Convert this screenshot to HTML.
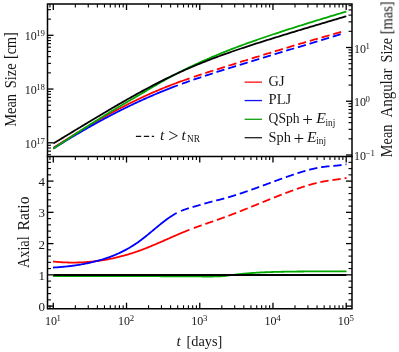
<!DOCTYPE html>
<html><head><meta charset="utf-8"><title>chart</title>
<style>html,body{margin:0;padding:0;background:#fff;}svg{display:block;}body{font-family:"Liberation Serif",serif;}</style></head>
<body>
<svg width="399" height="352" viewBox="0 0 399 352">
<rect x="0" y="0" width="399" height="352" fill="#fff"/>
<path d="M53.30,147.82 L53.98,147.39 L54.67,146.95 L55.35,146.51 L56.04,146.08 L56.72,145.64 L57.41,145.21 L58.09,144.77 L58.78,144.34 L59.46,143.90 L60.15,143.47 L60.83,143.03 L61.52,142.60 L62.20,142.17 L62.89,141.74 L63.57,141.30 L64.26,140.87 L64.94,140.44 L65.63,140.01 L66.31,139.58 L67.00,139.15 L67.68,138.72 L68.37,138.29 L69.05,137.87 L69.74,137.44 L70.42,137.01 L71.11,136.58 L71.79,136.16 L72.48,135.73 L73.16,135.31 L73.85,134.88 L74.53,134.46 L75.22,134.04 L75.90,133.62 L76.59,133.20 L77.27,132.77 L77.96,132.35 L78.64,131.93 L79.33,131.52 L80.01,131.10 L80.70,130.68 L81.38,130.26 L82.07,129.85 L82.75,129.43 L83.44,129.02 L84.12,128.61 L84.81,128.19 L85.49,127.78 L86.18,127.37 L86.86,126.96 L87.55,126.55 L88.23,126.14 L88.92,125.74 L89.60,125.33 L90.29,124.92 L90.97,124.52 L91.66,124.12 L92.34,123.71 L93.03,123.31 L93.71,122.91 L94.40,122.51 L95.08,122.11 L95.77,121.71 L96.45,121.32 L97.14,120.92 L97.82,120.52 L98.51,120.13 L99.19,119.74 L99.87,119.35 L100.56,118.96 L101.24,118.57 L101.93,118.18 L102.61,117.79 L103.30,117.40 L103.98,117.02 L104.67,116.63 L105.35,116.25 L106.04,115.87 L106.72,115.49 L107.41,115.11 L108.09,114.73 L108.78,114.35 L109.46,113.98 L110.15,113.60 L110.83,113.23 L111.52,112.85 L112.20,112.48 L112.89,112.11 L113.57,111.74 L114.26,111.37 L114.94,111.00 L115.63,110.64 L116.31,110.27 L117.00,109.91 L117.68,109.55 L118.37,109.19 L119.05,108.82 L119.74,108.47 L120.42,108.11 L121.11,107.75 L121.79,107.39 L122.48,107.04 L123.16,106.69 L123.85,106.33 L124.53,105.98 L125.22,105.63 L125.90,105.28 L126.59,104.94 L127.27,104.59 L127.96,104.25 L128.64,103.90 L129.33,103.56 L130.01,103.22 L130.70,102.88 L131.38,102.54 L132.07,102.20 L132.75,101.86 L133.44,101.53 L134.12,101.19 L134.81,100.86 L135.49,100.53 L136.18,100.20 L136.86,99.87 L137.55,99.54 L138.23,99.21 L138.92,98.89 L139.60,98.56 L140.29,98.24 L140.97,97.92 L141.66,97.60 L142.34,97.28 L143.03,96.96 L143.71,96.64 L144.39,96.33 L145.08,96.01 L145.76,95.70 L146.45,95.39 L147.13,95.08 L147.82,94.77 L148.50,94.46 L149.19,94.15 L149.87,93.85 L150.56,93.54 L151.24,93.24 L151.93,92.94 L152.61,92.64 L153.30,92.34 L153.98,92.04 L154.67,91.75 L155.35,91.45 L156.04,91.16 L156.72,90.87 L157.41,90.58 L158.09,90.29 L158.78,90.00 L159.46,89.71 L160.15,89.42 L160.83,89.14 L161.52,88.86 L162.20,88.57 L162.89,88.29 L163.57,88.02 L164.26,87.74 L164.94,87.46 L165.63,87.19 L166.31,86.91 L167.00,86.64 L167.68,86.37 L168.37,86.10 L169.05,85.83 L169.74,85.56 L170.42,85.30 L171.11,85.03 L171.79,84.77 L172.48,84.51 L173.16,84.25 L173.85,83.99 L174.53,83.73 L175.22,83.48 L175.90,83.22 L176.59,82.97 L177.27,82.72 L177.96,82.46 L178.64,82.21 L179.33,81.96 L180.01,81.72 L180.70,81.47 L181.38,81.22 L182.07,80.98 L182.75,80.73 L183.44,80.49 L184.12,80.25 L184.81,80.01 L185.49,79.77 L186.18,79.53 L186.86,79.29 L187.55,79.05 L188.23,78.81 L188.92,78.58 L189.60,78.34" fill="none" stroke="#ff0000" stroke-width="1.80" stroke-linecap="butt" stroke-linejoin="round"/>
<path d="M193.80,76.92 L194.56,76.66 L195.31,76.41 L196.07,76.16 L196.82,75.90 L197.58,75.65 L198.33,75.40 L199.09,75.15 L199.85,74.90 L200.60,74.66 L201.36,74.41 L202.11,74.16 L202.87,73.91 L203.63,73.67 L204.38,73.42 L205.14,73.18 L205.89,72.93 L206.65,72.69 L207.40,72.44 L208.16,72.20 L208.92,71.96 L209.67,71.71 L210.43,71.47 L211.18,71.23 L211.94,70.99 L212.69,70.75 L213.45,70.51 L214.21,70.27 L214.96,70.03 L215.72,69.78 L216.47,69.54 L217.23,69.30 L217.98,69.07 L218.74,68.83 L219.50,68.59 L220.25,68.35 L221.01,68.11 L221.76,67.87 L222.52,67.63 L223.28,67.39 L224.03,67.15 L224.79,66.91 L225.54,66.67 L226.30,66.44 L227.05,66.20 L227.81,65.96 L228.57,65.72 L229.32,65.48 L230.08,65.24 L230.83,65.01 L231.59,64.77 L232.34,64.53 L233.10,64.29 L233.86,64.06 L234.61,63.82 L235.37,63.58 L236.12,63.34 L236.88,63.11 L237.64,62.87 L238.39,62.63 L239.15,62.40 L239.90,62.16 L240.66,61.92 L241.41,61.69 L242.17,61.45 L242.93,61.21 L243.68,60.98 L244.44,60.74 L245.19,60.51 L245.95,60.27 L246.70,60.03 L247.46,59.80 L248.22,59.56 L248.97,59.33 L249.73,59.09 L250.48,58.86 L251.24,58.62 L251.99,58.39 L252.75,58.15 L253.51,57.92 L254.26,57.69 L255.02,57.45 L255.77,57.22 L256.53,56.98 L257.29,56.75 L258.04,56.52 L258.80,56.28 L259.55,56.05 L260.31,55.82 L261.06,55.58 L261.82,55.35 L262.58,55.12 L263.33,54.88 L264.09,54.65 L264.84,54.42 L265.60,54.19 L266.35,53.96 L267.11,53.72 L267.87,53.49 L268.62,53.26 L269.38,53.03 L270.13,52.80 L270.89,52.57 L271.65,52.34 L272.40,52.11 L273.16,51.88 L273.91,51.64 L274.67,51.41 L275.42,51.18 L276.18,50.95 L276.94,50.72 L277.69,50.50 L278.45,50.27 L279.20,50.04 L279.96,49.81 L280.71,49.58 L281.47,49.35 L282.23,49.12 L282.98,48.89 L283.74,48.67 L284.49,48.44 L285.25,48.21 L286.01,47.98 L286.76,47.75 L287.52,47.53 L288.27,47.30 L289.03,47.07 L289.78,46.85 L290.54,46.62 L291.30,46.39 L292.05,46.17 L292.81,45.94 L293.56,45.72 L294.32,45.49 L295.07,45.27 L295.83,45.04 L296.59,44.82 L297.34,44.59 L298.10,44.37 L298.85,44.14 L299.61,43.92 L300.36,43.69 L301.12,43.47 L301.88,43.25 L302.63,43.02 L303.39,42.80 L304.14,42.58 L304.90,42.36 L305.66,42.13 L306.41,41.91 L307.17,41.69 L307.92,41.47 L308.68,41.25 L309.43,41.02 L310.19,40.80 L310.95,40.58 L311.70,40.36 L312.46,40.14 L313.21,39.92 L313.97,39.70 L314.72,39.48 L315.48,39.26 L316.24,39.04 L316.99,38.82 L317.75,38.60 L318.50,38.39 L319.26,38.17 L320.02,37.95 L320.77,37.73 L321.53,37.51 L322.28,37.30 L323.04,37.08 L323.79,36.86 L324.55,36.65 L325.31,36.43 L326.06,36.21 L326.82,36.00 L327.57,35.78 L328.33,35.57 L329.08,35.35 L329.84,35.14 L330.60,34.92 L331.35,34.71 L332.11,34.49 L332.86,34.28 L333.62,34.06 L334.37,33.85 L335.13,33.64 L335.89,33.43 L336.64,33.21 L337.40,33.00 L338.15,32.79 L338.91,32.58 L339.67,32.37 L340.42,32.15 L341.18,31.94 L341.93,31.73 L342.69,31.52 L343.44,31.31 L344.20,31.10" fill="none" stroke="#ff0000" stroke-width="1.80" stroke-linecap="butt" stroke-linejoin="round" stroke-dasharray="8.3 3.85" stroke-dashoffset="0.00"/>
<path d="M53.30,148.56 L53.93,148.17 L54.55,147.78 L55.18,147.39 L55.80,147.00 L56.43,146.61 L57.06,146.22 L57.68,145.83 L58.31,145.44 L58.94,145.05 L59.56,144.67 L60.19,144.28 L60.81,143.89 L61.44,143.51 L62.07,143.13 L62.69,142.74 L63.32,142.36 L63.94,141.98 L64.57,141.59 L65.20,141.21 L65.82,140.83 L66.45,140.45 L67.07,140.07 L67.70,139.69 L68.33,139.31 L68.95,138.94 L69.58,138.56 L70.21,138.18 L70.83,137.81 L71.46,137.43 L72.08,137.06 L72.71,136.69 L73.34,136.31 L73.96,135.94 L74.59,135.57 L75.21,135.20 L75.84,134.83 L76.47,134.46 L77.09,134.09 L77.72,133.72 L78.35,133.35 L78.97,132.98 L79.60,132.62 L80.22,132.25 L80.85,131.89 L81.48,131.52 L82.10,131.16 L82.73,130.80 L83.35,130.44 L83.98,130.07 L84.61,129.71 L85.23,129.35 L85.86,128.99 L86.48,128.64 L87.11,128.28 L87.74,127.92 L88.36,127.57 L88.99,127.21 L89.62,126.86 L90.24,126.50 L90.87,126.15 L91.49,125.80 L92.12,125.44 L92.75,125.09 L93.37,124.74 L94.00,124.39 L94.62,124.05 L95.25,123.70 L95.88,123.35 L96.50,123.01 L97.13,122.66 L97.76,122.32 L98.38,121.97 L99.01,121.63 L99.63,121.29 L100.26,120.95 L100.89,120.61 L101.51,120.27 L102.14,119.93 L102.76,119.59 L103.39,119.25 L104.02,118.92 L104.64,118.58 L105.27,118.25 L105.89,117.91 L106.52,117.58 L107.15,117.25 L107.77,116.92 L108.40,116.59 L109.03,116.26 L109.65,115.93 L110.28,115.60 L110.90,115.27 L111.53,114.95 L112.16,114.62 L112.78,114.30 L113.41,113.97 L114.03,113.65 L114.66,113.33 L115.29,113.01 L115.91,112.69 L116.54,112.37 L117.17,112.05 L117.79,111.73 L118.42,111.41 L119.04,111.10 L119.67,110.78 L120.30,110.47 L120.92,110.15 L121.55,109.84 L122.17,109.53 L122.80,109.22 L123.43,108.91 L124.05,108.60 L124.68,108.29 L125.31,107.98 L125.93,107.68 L126.56,107.37 L127.18,107.07 L127.81,106.76 L128.44,106.46 L129.06,106.16 L129.69,105.85 L130.31,105.55 L130.94,105.25 L131.57,104.96 L132.19,104.66 L132.82,104.36 L133.44,104.06 L134.07,103.77 L134.70,103.47 L135.32,103.18 L135.95,102.89 L136.58,102.59 L137.20,102.30 L137.83,102.01 L138.45,101.72 L139.08,101.44 L139.71,101.15 L140.33,100.86 L140.96,100.58 L141.58,100.29 L142.21,100.01 L142.84,99.72 L143.46,99.44 L144.09,99.16 L144.72,98.88 L145.34,98.60 L145.97,98.32 L146.59,98.04 L147.22,97.76 L147.85,97.49 L148.47,97.21 L149.10,96.94 L149.72,96.67 L150.35,96.39 L150.98,96.12 L151.60,95.85 L152.23,95.58 L152.85,95.31 L153.48,95.04 L154.11,94.78 L154.73,94.51 L155.36,94.24 L155.99,93.98 L156.61,93.72 L157.24,93.45 L157.86,93.19 L158.49,92.93 L159.12,92.67 L159.74,92.41 L160.37,92.15 L160.99,91.90 L161.62,91.64 L162.25,91.38 L162.87,91.13 L163.50,90.88 L164.13,90.62 L164.75,90.37 L165.38,90.12 L166.00,89.87 L166.63,89.62 L167.26,89.37 L167.88,89.13 L168.51,88.88 L169.13,88.63 L169.76,88.39 L170.39,88.15 L171.01,87.90 L171.64,87.66 L172.26,87.42 L172.89,87.18 L173.52,86.94 L174.14,86.70 L174.77,86.46 L175.40,86.23 L176.02,85.99 L176.65,85.76 L177.27,85.52 L177.90,85.29" fill="none" stroke="#0000ff" stroke-width="1.80" stroke-linecap="butt" stroke-linejoin="round"/>
<path d="M182.00,83.78 L182.82,83.49 L183.63,83.19 L184.45,82.90 L185.26,82.61 L186.08,82.32 L186.89,82.03 L187.71,81.74 L188.52,81.45 L189.34,81.16 L190.15,80.88 L190.97,80.59 L191.78,80.31 L192.60,80.03 L193.41,79.75 L194.23,79.47 L195.04,79.19 L195.86,78.91 L196.67,78.63 L197.49,78.36 L198.30,78.08 L199.12,77.80 L199.93,77.53 L200.75,77.26 L201.56,76.99 L202.38,76.71 L203.19,76.44 L204.01,76.17 L204.82,75.91 L205.64,75.64 L206.45,75.37 L207.27,75.10 L208.08,74.84 L208.90,74.57 L209.71,74.31 L210.53,74.04 L211.34,73.78 L212.16,73.51 L212.97,73.25 L213.79,72.99 L214.60,72.73 L215.42,72.47 L216.23,72.21 L217.05,71.95 L217.86,71.69 L218.68,71.43 L219.49,71.17 L220.31,70.91 L221.12,70.65 L221.94,70.39 L222.75,70.13 L223.57,69.88 L224.38,69.62 L225.20,69.36 L226.01,69.11 L226.83,68.85 L227.64,68.59 L228.46,68.34 L229.27,68.08 L230.09,67.83 L230.90,67.57 L231.72,67.32 L232.53,67.07 L233.35,66.81 L234.16,66.56 L234.98,66.30 L235.79,66.05 L236.61,65.80 L237.43,65.55 L238.24,65.29 L239.06,65.04 L239.87,64.79 L240.69,64.54 L241.50,64.29 L242.32,64.04 L243.13,63.78 L243.95,63.53 L244.76,63.28 L245.58,63.03 L246.39,62.78 L247.21,62.53 L248.02,62.28 L248.84,62.03 L249.65,61.78 L250.47,61.54 L251.28,61.29 L252.10,61.04 L252.91,60.79 L253.73,60.54 L254.54,60.29 L255.36,60.05 L256.17,59.80 L256.99,59.55 L257.80,59.30 L258.62,59.05 L259.43,58.81 L260.25,58.56 L261.06,58.31 L261.88,58.07 L262.69,57.82 L263.51,57.57 L264.32,57.33 L265.14,57.08 L265.95,56.83 L266.77,56.59 L267.58,56.34 L268.40,56.10 L269.21,55.85 L270.03,55.61 L270.84,55.36 L271.66,55.11 L272.47,54.87 L273.29,54.62 L274.10,54.38 L274.92,54.13 L275.73,53.89 L276.55,53.64 L277.36,53.40 L278.18,53.15 L278.99,52.91 L279.81,52.66 L280.62,52.42 L281.44,52.17 L282.25,51.93 L283.07,51.68 L283.88,51.44 L284.70,51.19 L285.51,50.95 L286.33,50.71 L287.14,50.46 L287.96,50.22 L288.77,49.97 L289.59,49.73 L290.41,49.48 L291.22,49.24 L292.04,48.99 L292.85,48.75 L293.67,48.50 L294.48,48.26 L295.30,48.01 L296.11,47.77 L296.93,47.53 L297.74,47.28 L298.56,47.04 L299.37,46.79 L300.19,46.55 L301.00,46.30 L301.82,46.06 L302.63,45.81 L303.45,45.57 L304.26,45.32 L305.08,45.07 L305.89,44.83 L306.71,44.58 L307.52,44.34 L308.34,44.09 L309.15,43.85 L309.97,43.60 L310.78,43.35 L311.60,43.11 L312.41,42.86 L313.23,42.62 L314.04,42.37 L314.86,42.12 L315.67,41.88 L316.49,41.63 L317.30,41.38 L318.12,41.14 L318.93,40.89 L319.75,40.64 L320.56,40.39 L321.38,40.15 L322.19,39.90 L323.01,39.65 L323.82,39.40 L324.64,39.15 L325.45,38.91 L326.27,38.66 L327.08,38.41 L327.90,38.16 L328.71,37.91 L329.53,37.66 L330.34,37.41 L331.16,37.16 L331.97,36.91 L332.79,36.66 L333.60,36.41 L334.42,36.16 L335.23,35.91 L336.05,35.66 L336.86,35.41 L337.68,35.15 L338.49,34.90 L339.31,34.65 L340.12,34.40 L340.94,34.15 L341.75,33.89 L342.57,33.64 L343.38,33.39 L344.20,33.13" fill="none" stroke="#0000ff" stroke-width="1.80" stroke-linecap="butt" stroke-linejoin="round" stroke-dasharray="8.3 3.85" stroke-dashoffset="0.00"/>
<path d="M53.30,148.75 L54.77,147.76 L56.24,146.77 L57.72,145.78 L59.19,144.79 L60.66,143.80 L62.13,142.82 L63.61,141.83 L65.08,140.85 L66.55,139.88 L68.02,138.90 L69.50,137.93 L70.97,136.95 L72.44,135.98 L73.91,135.02 L75.39,134.05 L76.86,133.09 L78.33,132.13 L79.80,131.17 L81.27,130.22 L82.75,129.27 L84.22,128.32 L85.69,127.37 L87.16,126.43 L88.64,125.48 L90.11,124.55 L91.58,123.61 L93.05,122.68 L94.53,121.75 L96.00,120.82 L97.47,119.90 L98.94,118.98 L100.42,118.06 L101.89,117.15 L103.36,116.23 L104.83,115.33 L106.31,114.42 L107.78,113.52 L109.25,112.62 L110.72,111.73 L112.19,110.84 L113.67,109.95 L115.14,109.07 L116.61,108.19 L118.08,107.31 L119.56,106.44 L121.03,105.57 L122.50,104.71 L123.97,103.85 L125.45,102.99 L126.92,102.13 L128.39,101.28 L129.86,100.42 L131.34,99.57 L132.81,98.71 L134.28,97.86 L135.75,97.01 L137.22,96.15 L138.70,95.30 L140.17,94.44 L141.64,93.58 L143.11,92.71 L144.59,91.85 L146.06,90.98 L147.53,90.10 L149.00,89.23 L150.48,88.35 L151.95,87.48 L153.42,86.60 L154.89,85.73 L156.37,84.87 L157.84,84.01 L159.31,83.15 L160.78,82.30 L162.25,81.47 L163.73,80.63 L165.20,79.81 L166.67,79.00 L168.14,78.19 L169.62,77.39 L171.09,76.60 L172.56,75.81 L174.03,75.03 L175.51,74.26 L176.98,73.50 L178.45,72.74 L179.92,71.99 L181.40,71.24 L182.87,70.50 L184.34,69.77 L185.81,69.04 L187.28,68.32 L188.76,67.61 L190.23,66.90 L191.70,66.20 L193.17,65.50 L194.65,64.81 L196.12,64.13 L197.59,63.45 L199.06,62.78 L200.54,62.11 L202.01,61.44 L203.48,60.79 L204.95,60.13 L206.43,59.49 L207.90,58.85 L209.37,58.21 L210.84,57.58 L212.32,56.95 L213.79,56.33 L215.26,55.71 L216.73,55.10 L218.20,54.49 L219.68,53.88 L221.15,53.28 L222.62,52.69 L224.09,52.10 L225.57,51.51 L227.04,50.93 L228.51,50.35 L229.98,49.78 L231.46,49.21 L232.93,48.64 L234.40,48.08 L235.87,47.52 L237.35,46.96 L238.82,46.41 L240.29,45.86 L241.76,45.31 L243.23,44.77 L244.71,44.23 L246.18,43.70 L247.65,43.17 L249.12,42.64 L250.60,42.11 L252.07,41.59 L253.54,41.06 L255.01,40.55 L256.49,40.03 L257.96,39.52 L259.43,39.01 L260.90,38.50 L262.38,37.99 L263.85,37.49 L265.32,36.99 L266.79,36.49 L268.26,35.99 L269.74,35.50 L271.21,35.00 L272.68,34.51 L274.15,34.02 L275.63,33.54 L277.10,33.05 L278.57,32.57 L280.04,32.08 L281.52,31.60 L282.99,31.12 L284.46,30.65 L285.93,30.17 L287.41,29.69 L288.88,29.22 L290.35,28.75 L291.82,28.28 L293.29,27.81 L294.77,27.34 L296.24,26.88 L297.71,26.41 L299.18,25.95 L300.66,25.49 L302.13,25.02 L303.60,24.56 L305.07,24.10 L306.55,23.65 L308.02,23.19 L309.49,22.73 L310.96,22.28 L312.44,21.82 L313.91,21.37 L315.38,20.92 L316.85,20.46 L318.33,20.01 L319.80,19.56 L321.27,19.11 L322.74,18.66 L324.21,18.22 L325.69,17.77 L327.16,17.32 L328.63,16.87 L330.10,16.43 L331.58,15.98 L333.05,15.54 L334.52,15.09 L335.99,14.65 L337.47,14.20 L338.94,13.76 L340.41,13.31 L341.88,12.87 L343.36,12.43 L344.83,11.98 L346.30,11.54" fill="none" stroke="#00a800" stroke-width="1.80" stroke-linecap="butt" stroke-linejoin="round"/>
<path d="M53.40,143.45 L54.87,142.56 L56.34,141.68 L57.82,140.79 L59.29,139.90 L60.76,139.01 L62.23,138.12 L63.70,137.23 L65.17,136.34 L66.65,135.45 L68.12,134.56 L69.59,133.67 L71.06,132.77 L72.53,131.88 L74.01,130.99 L75.48,130.10 L76.95,129.21 L78.42,128.32 L79.89,127.43 L81.37,126.53 L82.84,125.64 L84.31,124.75 L85.78,123.87 L87.25,122.98 L88.72,122.09 L90.20,121.20 L91.67,120.32 L93.14,119.43 L94.61,118.55 L96.08,117.67 L97.56,116.79 L99.03,115.91 L100.50,115.03 L101.97,114.16 L103.44,113.28 L104.92,112.41 L106.39,111.54 L107.86,110.67 L109.33,109.80 L110.80,108.94 L112.27,108.08 L113.75,107.22 L115.22,106.36 L116.69,105.50 L118.16,104.65 L119.63,103.80 L121.11,102.95 L122.58,102.10 L124.05,101.26 L125.52,100.42 L126.99,99.59 L128.46,98.75 L129.94,97.92 L131.41,97.10 L132.88,96.27 L134.35,95.45 L135.82,94.63 L137.30,93.82 L138.77,93.01 L140.24,92.21 L141.71,91.40 L143.18,90.61 L144.66,89.81 L146.13,89.02 L147.60,88.23 L149.07,87.45 L150.54,86.68 L152.01,85.90 L153.49,85.13 L154.96,84.37 L156.43,83.61 L157.90,82.86 L159.37,82.11 L160.85,81.36 L162.32,80.62 L163.79,79.89 L165.26,79.16 L166.73,78.43 L168.21,77.71 L169.68,77.00 L171.15,76.29 L172.62,75.59 L174.09,74.89 L175.56,74.20 L177.04,73.51 L178.51,72.83 L179.98,72.16 L181.45,71.49 L182.92,70.83 L184.40,70.17 L185.87,69.52 L187.34,68.88 L188.81,68.24 L190.28,67.60 L191.75,66.98 L193.23,66.35 L194.70,65.74 L196.17,65.12 L197.64,64.52 L199.11,63.92 L200.59,63.32 L202.06,62.73 L203.53,62.14 L205.00,61.56 L206.47,60.98 L207.95,60.40 L209.42,59.84 L210.89,59.27 L212.36,58.71 L213.83,58.15 L215.30,57.60 L216.78,57.05 L218.25,56.51 L219.72,55.97 L221.19,55.43 L222.66,54.90 L224.14,54.37 L225.61,53.84 L227.08,53.32 L228.55,52.80 L230.02,52.29 L231.49,51.77 L232.97,51.26 L234.44,50.76 L235.91,50.25 L237.38,49.75 L238.85,49.26 L240.33,48.76 L241.80,48.27 L243.27,47.78 L244.74,47.29 L246.21,46.80 L247.69,46.32 L249.16,45.84 L250.63,45.36 L252.10,44.88 L253.57,44.41 L255.04,43.93 L256.52,43.46 L257.99,42.99 L259.46,42.52 L260.93,42.06 L262.40,41.59 L263.88,41.13 L265.35,40.67 L266.82,40.20 L268.29,39.74 L269.76,39.28 L271.24,38.82 L272.71,38.37 L274.18,37.91 L275.65,37.45 L277.12,37.00 L278.59,36.54 L280.07,36.09 L281.54,35.63 L283.01,35.18 L284.48,34.73 L285.95,34.28 L287.43,33.83 L288.90,33.38 L290.37,32.93 L291.84,32.48 L293.31,32.04 L294.78,31.59 L296.26,31.14 L297.73,30.70 L299.20,30.25 L300.67,29.81 L302.14,29.36 L303.62,28.92 L305.09,28.48 L306.56,28.04 L308.03,27.60 L309.50,27.15 L310.98,26.71 L312.45,26.27 L313.92,25.83 L315.39,25.39 L316.86,24.96 L318.33,24.52 L319.81,24.08 L321.28,23.64 L322.75,23.20 L324.22,22.77 L325.69,22.33 L327.17,21.90 L328.64,21.46 L330.11,21.02 L331.58,20.59 L333.05,20.15 L334.53,19.72 L336.00,19.28 L337.47,18.85 L338.94,18.42 L340.41,17.98 L341.88,17.55 L343.36,17.12 L344.83,16.68 L346.30,16.25" fill="none" stroke="#000000" stroke-width="1.80" stroke-linecap="butt" stroke-linejoin="round"/>
<path d="M53.00,261.51 L53.98,261.61 L54.96,261.71 L55.94,261.80 L56.93,261.88 L57.91,261.96 L58.89,262.04 L59.87,262.11 L60.85,262.17 L61.83,262.23 L62.82,262.29 L63.80,262.34 L64.78,262.38 L65.76,262.42 L66.74,262.46 L67.72,262.49 L68.71,262.51 L69.69,262.53 L70.67,262.55 L71.65,262.56 L72.63,262.56 L73.61,262.56 L74.60,262.56 L75.58,262.55 L76.56,262.53 L77.54,262.51 L78.52,262.48 L79.50,262.45 L80.48,262.42 L81.47,262.37 L82.45,262.33 L83.43,262.28 L84.41,262.22 L85.39,262.16 L86.37,262.09 L87.36,262.02 L88.34,261.94 L89.32,261.86 L90.30,261.77 L91.28,261.68 L92.26,261.58 L93.25,261.48 L94.23,261.37 L95.21,261.26 L96.19,261.14 L97.17,261.01 L98.15,260.89 L99.14,260.75 L100.12,260.61 L101.10,260.47 L102.08,260.32 L103.06,260.16 L104.04,260.00 L105.03,259.84 L106.01,259.67 L106.99,259.49 L107.97,259.31 L108.95,259.12 L109.93,258.93 L110.91,258.73 L111.90,258.53 L112.88,258.32 L113.86,258.11 L114.84,257.89 L115.82,257.67 L116.80,257.44 L117.79,257.21 L118.77,256.97 L119.75,256.72 L120.73,256.47 L121.71,256.22 L122.69,255.96 L123.68,255.69 L124.66,255.42 L125.64,255.14 L126.62,254.86 L127.60,254.57 L128.58,254.28 L129.57,253.98 L130.55,253.68 L131.53,253.37 L132.51,253.06 L133.49,252.74 L134.47,252.41 L135.45,252.08 L136.44,251.75 L137.42,251.41 L138.40,251.06 L139.38,250.71 L140.36,250.35 L141.34,249.99 L142.33,249.62 L143.31,249.25 L144.29,248.87 L145.27,248.49 L146.25,248.10 L147.23,247.71 L148.22,247.32 L149.20,246.92 L150.18,246.52 L151.16,246.11 L152.14,245.70 L153.12,245.29 L154.11,244.88 L155.09,244.46 L156.07,244.04 L157.05,243.62 L158.03,243.20 L159.01,242.77 L159.99,242.35 L160.98,241.92 L161.96,241.49 L162.94,241.06 L163.92,240.62 L164.90,240.19 L165.88,239.76 L166.87,239.33 L167.85,238.89 L168.83,238.46 L169.81,238.03 L170.79,237.60 L171.77,237.16 L172.76,236.73 L173.74,236.30 L174.72,235.88 L175.70,235.45 L176.68,235.02 L177.66,234.60 L178.65,234.18 L179.63,233.76 L180.61,233.34 L181.59,232.93 L182.57,232.52 L183.55,232.11 L184.54,231.71 L185.52,231.31 L186.50,230.91 L187.48,230.51 L188.46,230.12 L189.44,229.74" fill="none" stroke="#ff0000" stroke-width="1.80" stroke-linecap="butt" stroke-linejoin="round"/>
<path d="M193.80,228.08 L194.31,227.89 L194.82,227.70 L195.33,227.51 L195.84,227.32 L196.35,227.14 L196.86,226.95 L197.37,226.77 L197.89,226.58 L198.40,226.40 L198.91,226.22 L199.42,226.04 L199.93,225.85 L200.44,225.67 L200.95,225.49 L201.46,225.31 L201.97,225.14 L202.48,224.96 L202.99,224.78 L203.50,224.60 L204.01,224.42 L204.52,224.25 L205.04,224.07 L205.55,223.89 L206.06,223.72 L206.57,223.54 L207.08,223.36 L207.59,223.19 L208.10,223.01 L208.61,222.84 L209.12,222.66 L209.63,222.49 L210.14,222.31 L210.65,222.14 L211.16,221.96 L211.67,221.79 L212.19,221.61 L212.70,221.43 L213.21,221.26 L213.72,221.08 L214.23,220.91 L214.74,220.73 L215.25,220.55 L215.76,220.37 L216.27,220.20 L216.78,220.02 L217.29,219.84 L217.80,219.66 L218.31,219.48 L218.82,219.30 L219.34,219.12 L219.85,218.94 L220.36,218.76 L220.87,218.57 L221.38,218.39 L221.89,218.21 L222.40,218.02 L222.91,217.84 L223.42,217.65 L223.93,217.46 L224.44,217.28 L224.95,217.09 L225.46,216.90 L225.97,216.71 L226.48,216.52 L227.00,216.33 L227.51,216.14 L228.02,215.95 L228.53,215.76 L229.04,215.57 L229.55,215.37 L230.06,215.18 L230.57,214.99 L231.08,214.79 L231.59,214.60 L232.10,214.40 L232.61,214.21 L233.12,214.01 L233.63,213.81 L234.15,213.61 L234.66,213.42 L235.17,213.22 L235.68,213.02 L236.19,212.82 L236.70,212.62 L237.21,212.42 L237.72,212.22 L238.23,212.02 L238.74,211.82 L239.25,211.62 L239.76,211.42 L240.27,211.21 L240.78,211.01 L241.30,210.81 L241.81,210.61 L242.32,210.40 L242.83,210.20 L243.34,210.00 L243.85,209.79 L244.36,209.59 L244.87,209.38 L245.38,209.18 L245.89,208.97 L246.40,208.77 L246.91,208.56 L247.42,208.36 L247.93,208.15 L248.45,207.94 L248.96,207.74 L249.47,207.53 L249.98,207.32 L250.49,207.12 L251.00,206.91 L251.51,206.70 L252.02,206.50 L252.53,206.29 L253.04,206.08 L253.55,205.87 L254.06,205.67 L254.57,205.46 L255.08,205.25 L255.59,205.04 L256.11,204.84 L256.62,204.63 L257.13,204.42 L257.64,204.21 L258.15,204.00 L258.66,203.80 L259.17,203.59 L259.68,203.38 L260.19,203.17 L260.70,202.96 L261.21,202.76 L261.72,202.55 L262.23,202.34 L262.74,202.13 L263.26,201.93 L263.77,201.72 L264.28,201.51 L264.79,201.30 L265.30,201.10 L265.81,200.89 L266.32,200.68 L266.83,200.48 L267.34,200.27 L267.85,200.06 L268.36,199.86 L268.87,199.65 L269.38,199.45 L269.89,199.24 L270.41,199.04 L270.92,198.83 L271.43,198.63 L271.94,198.42 L272.45,198.22 L272.96,198.01 L273.47,197.81 L273.98,197.61 L274.49,197.40 L275.00,197.20 L275.51,197.00 L276.02,196.80 L276.53,196.59 L277.04,196.39 L277.56,196.19 L278.07,195.99 L278.58,195.79 L279.09,195.59 L279.60,195.39 L280.11,195.19 L280.62,194.99 L281.13,194.79 L281.64,194.60 L282.15,194.40 L282.66,194.20 L283.17,194.01 L283.68,193.81 L284.19,193.61 L284.71,193.42 L285.22,193.22 L285.73,193.03 L286.24,192.84 L286.75,192.64 L287.26,192.45 L287.77,192.26 L288.28,192.07 L288.79,191.88 L289.30,191.69 L289.81,191.50 L290.32,191.31 L290.83,191.12 L291.34,190.93 L291.85,190.74 L292.37,190.56 L292.88,190.37 L293.39,190.19 L293.90,190.00 L294.41,189.82 L294.92,189.64 L295.43,189.45 L295.94,189.27 L296.45,189.09 L296.96,188.91 L297.47,188.74 L297.98,188.56 L298.49,188.38 L299.00,188.21 L299.52,188.03 L300.03,187.86 L300.54,187.69 L301.05,187.52 L301.56,187.35 L302.07,187.18 L302.58,187.01 L303.09,186.85 L303.60,186.68 L304.11,186.52 L304.62,186.36 L305.13,186.20 L305.64,186.04 L306.15,185.88 L306.67,185.72 L307.18,185.57 L307.69,185.41 L308.20,185.26 L308.71,185.11 L309.22,184.96 L309.73,184.81 L310.24,184.66 L310.75,184.52 L311.26,184.38 L311.77,184.23 L312.28,184.09 L312.79,183.96 L313.30,183.82 L313.82,183.69 L314.33,183.55 L314.84,183.42 L315.35,183.29 L315.86,183.16 L316.37,183.04 L316.88,182.91 L317.39,182.79 L317.90,182.67 L318.41,182.55 L318.92,182.44 L319.43,182.32 L319.94,182.21 L320.45,182.10 L320.96,181.99 L321.48,181.89 L321.99,181.78 L322.50,181.68 L323.01,181.58 L323.52,181.48 L324.03,181.39 L324.54,181.30 L325.05,181.20 L325.56,181.12 L326.07,181.03 L326.58,180.94 L327.09,180.86 L327.60,180.78 L328.11,180.70 L328.63,180.62 L329.14,180.54 L329.65,180.46 L330.16,180.39 L330.67,180.31 L331.18,180.24 L331.69,180.17 L332.20,180.10 L332.71,180.02 L333.22,179.95 L333.73,179.88 L334.24,179.81 L334.75,179.74 L335.26,179.67 L335.78,179.60 L336.29,179.53 L336.80,179.46 L337.31,179.39 L337.82,179.32 L338.33,179.25 L338.84,179.18 L339.35,179.11 L339.86,179.04 L340.37,178.96 L340.88,178.89 L341.39,178.82 L341.90,178.74 L342.41,178.66 L342.93,178.58 L343.44,178.50 L343.95,178.42 L344.46,178.34 L344.97,178.25 L345.48,178.17 L345.99,178.08 L346.50,177.99" fill="none" stroke="#ff0000" stroke-width="1.80" stroke-linecap="butt" stroke-linejoin="round" stroke-dasharray="8.35 3.9" stroke-dashoffset="0.00"/>
<path d="M53.00,267.56 L53.98,267.50 L54.96,267.44 L55.94,267.38 L56.93,267.31 L57.91,267.25 L58.89,267.17 L59.87,267.10 L60.85,267.02 L61.83,266.94 L62.82,266.85 L63.80,266.76 L64.78,266.66 L65.76,266.57 L66.74,266.46 L67.72,266.36 L68.71,266.25 L69.69,266.13 L70.67,266.01 L71.65,265.89 L72.63,265.76 L73.61,265.63 L74.60,265.49 L75.58,265.35 L76.56,265.21 L77.54,265.05 L78.52,264.90 L79.50,264.74 L80.48,264.57 L81.47,264.40 L82.45,264.23 L83.43,264.05 L84.41,263.86 L85.39,263.67 L86.37,263.47 L87.36,263.27 L88.34,263.07 L89.32,262.85 L90.30,262.64 L91.28,262.41 L92.26,262.18 L93.25,261.95 L94.23,261.70 L95.21,261.46 L96.19,261.20 L97.17,260.95 L98.15,260.68 L99.14,260.41 L100.12,260.13 L101.10,259.84 L102.08,259.55 L103.06,259.25 L104.04,258.94 L105.03,258.62 L106.01,258.30 L106.99,257.97 L107.97,257.63 L108.95,257.28 L109.93,256.92 L110.91,256.56 L111.90,256.18 L112.88,255.80 L113.86,255.40 L114.84,255.00 L115.82,254.59 L116.80,254.16 L117.79,253.73 L118.77,253.29 L119.75,252.83 L120.73,252.37 L121.71,251.89 L122.69,251.40 L123.68,250.91 L124.66,250.40 L125.64,249.87 L126.62,249.34 L127.60,248.80 L128.58,248.24 L129.57,247.67 L130.55,247.09 L131.53,246.49 L132.51,245.88 L133.49,245.26 L134.47,244.63 L135.45,243.98 L136.44,243.31 L137.42,242.64 L138.40,241.95 L139.38,241.24 L140.36,240.52 L141.34,239.79 L142.33,239.04 L143.31,238.29 L144.29,237.52 L145.27,236.74 L146.25,235.95 L147.23,235.15 L148.22,234.35 L149.20,233.54 L150.18,232.73 L151.16,231.91 L152.14,231.10 L153.12,230.28 L154.11,229.46 L155.09,228.64 L156.07,227.82 L157.05,227.00 L158.03,226.19 L159.01,225.39 L159.99,224.59 L160.98,223.80 L161.96,223.02 L162.94,222.24 L163.92,221.48 L164.90,220.73 L165.88,219.99 L166.87,219.27 L167.85,218.56 L168.83,217.86 L169.81,217.18 L170.79,216.53 L171.77,215.89 L172.76,215.27 L173.74,214.67 L174.72,214.09 L175.70,213.54 L176.68,213.01" fill="none" stroke="#0000ff" stroke-width="1.80" stroke-linecap="butt" stroke-linejoin="round"/>
<path d="M181.00,210.98 L181.55,210.75 L182.11,210.53 L182.66,210.31 L183.21,210.10 L183.77,209.89 L184.32,209.69 L184.87,209.49 L185.43,209.30 L185.98,209.11 L186.54,208.93 L187.09,208.75 L187.64,208.57 L188.20,208.39 L188.75,208.22 L189.30,208.05 L189.86,207.89 L190.41,207.72 L190.96,207.56 L191.52,207.40 L192.07,207.24 L192.62,207.08 L193.18,206.92 L193.73,206.76 L194.28,206.61 L194.84,206.45 L195.39,206.29 L195.94,206.13 L196.50,205.97 L197.05,205.81 L197.61,205.65 L198.16,205.49 L198.71,205.33 L199.27,205.16 L199.82,205.00 L200.37,204.83 L200.93,204.67 L201.48,204.51 L202.03,204.34 L202.59,204.18 L203.14,204.02 L203.69,203.85 L204.25,203.69 L204.80,203.53 L205.35,203.37 L205.91,203.21 L206.46,203.06 L207.02,202.90 L207.57,202.75 L208.12,202.60 L208.68,202.45 L209.23,202.30 L209.78,202.16 L210.34,202.01 L210.89,201.87 L211.44,201.73 L212.00,201.59 L212.55,201.45 L213.10,201.31 L213.66,201.18 L214.21,201.04 L214.76,200.90 L215.32,200.77 L215.87,200.63 L216.42,200.49 L216.98,200.36 L217.53,200.22 L218.09,200.08 L218.64,199.94 L219.19,199.80 L219.75,199.66 L220.30,199.52 L220.85,199.38 L221.41,199.23 L221.96,199.08 L222.51,198.94 L223.07,198.79 L223.62,198.64 L224.17,198.48 L224.73,198.33 L225.28,198.18 L225.83,198.02 L226.39,197.86 L226.94,197.70 L227.49,197.54 L228.05,197.38 L228.60,197.22 L229.16,197.06 L229.71,196.89 L230.26,196.73 L230.82,196.56 L231.37,196.40 L231.92,196.23 L232.48,196.06 L233.03,195.89 L233.58,195.71 L234.14,195.54 L234.69,195.37 L235.24,195.19 L235.80,195.02 L236.35,194.84 L236.90,194.66 L237.46,194.48 L238.01,194.31 L238.57,194.12 L239.12,193.94 L239.67,193.76 L240.23,193.58 L240.78,193.40 L241.33,193.21 L241.89,193.03 L242.44,192.84 L242.99,192.65 L243.55,192.46 L244.10,192.28 L244.65,192.09 L245.21,191.90 L245.76,191.71 L246.31,191.52 L246.87,191.32 L247.42,191.13 L247.97,190.94 L248.53,190.75 L249.08,190.55 L249.64,190.36 L250.19,190.16 L250.74,189.97 L251.30,189.77 L251.85,189.57 L252.40,189.38 L252.96,189.18 L253.51,188.98 L254.06,188.78 L254.62,188.58 L255.17,188.38 L255.72,188.18 L256.28,187.98 L256.83,187.78 L257.38,187.58 L257.94,187.38 L258.49,187.18 L259.05,186.98 L259.60,186.78 L260.15,186.58 L260.71,186.37 L261.26,186.17 L261.81,185.97 L262.37,185.76 L262.92,185.56 L263.47,185.36 L264.03,185.15 L264.58,184.95 L265.13,184.75 L265.69,184.54 L266.24,184.34 L266.79,184.14 L267.35,183.93 L267.90,183.73 L268.45,183.52 L269.01,183.32 L269.56,183.12 L270.12,182.91 L270.67,182.71 L271.22,182.50 L271.78,182.30 L272.33,182.10 L272.88,181.89 L273.44,181.69 L273.99,181.49 L274.54,181.28 L275.10,181.08 L275.65,180.88 L276.20,180.68 L276.76,180.47 L277.31,180.27 L277.86,180.07 L278.42,179.87 L278.97,179.67 L279.53,179.47 L280.08,179.27 L280.63,179.07 L281.19,178.87 L281.74,178.67 L282.29,178.47 L282.85,178.27 L283.40,178.07 L283.95,177.88 L284.51,177.68 L285.06,177.48 L285.61,177.29 L286.17,177.09 L286.72,176.89 L287.27,176.70 L287.83,176.51 L288.38,176.31 L288.93,176.12 L289.49,175.93 L290.04,175.74 L290.60,175.54 L291.15,175.35 L291.70,175.17 L292.26,174.98 L292.81,174.79 L293.36,174.60 L293.92,174.42 L294.47,174.23 L295.02,174.05 L295.58,173.86 L296.13,173.68 L296.68,173.50 L297.24,173.32 L297.79,173.14 L298.34,172.96 L298.90,172.79 L299.45,172.61 L300.01,172.44 L300.56,172.27 L301.11,172.10 L301.67,171.93 L302.22,171.76 L302.77,171.60 L303.33,171.43 L303.88,171.27 L304.43,171.11 L304.99,170.95 L305.54,170.79 L306.09,170.64 L306.65,170.48 L307.20,170.33 L307.75,170.18 L308.31,170.03 L308.86,169.89 L309.41,169.74 L309.97,169.60 L310.52,169.46 L311.08,169.32 L311.63,169.19 L312.18,169.05 L312.74,168.92 L313.29,168.79 L313.84,168.67 L314.40,168.55 L314.95,168.42 L315.50,168.31 L316.06,168.19 L316.61,168.08 L317.16,167.96 L317.72,167.86 L318.27,167.75 L318.82,167.65 L319.38,167.55 L319.93,167.45 L320.48,167.36 L321.04,167.26 L321.59,167.18 L322.15,167.09 L322.70,167.01 L323.25,166.93 L323.81,166.85 L324.36,166.78 L324.91,166.71 L325.47,166.64 L326.02,166.58 L326.57,166.51 L327.13,166.45 L327.68,166.40 L328.23,166.34 L328.79,166.29 L329.34,166.23 L329.89,166.18 L330.45,166.13 L331.00,166.08 L331.56,166.03 L332.11,165.98 L332.66,165.94 L333.22,165.89 L333.77,165.84 L334.32,165.79 L334.88,165.75 L335.43,165.70 L335.98,165.65 L336.54,165.60 L337.09,165.54 L337.64,165.49 L338.20,165.44 L338.75,165.38 L339.30,165.32 L339.86,165.26 L340.41,165.20 L340.96,165.13 L341.52,165.06 L342.07,164.99 L342.63,164.92 L343.18,164.84 L343.73,164.76 L344.29,164.68 L344.84,164.59 L345.39,164.49 L345.95,164.40 L346.50,164.30" fill="none" stroke="#0000ff" stroke-width="1.80" stroke-linecap="butt" stroke-linejoin="round" stroke-dasharray="8.35 3.9" stroke-dashoffset="0.00"/>
<path d="M53.00,276.20 L53.98,276.20 L54.96,276.20 L55.94,276.20 L56.93,276.20 L57.91,276.20 L58.89,276.20 L59.87,276.20 L60.85,276.20 L61.83,276.20 L62.82,276.20 L63.80,276.20 L64.78,276.20 L65.76,276.20 L66.74,276.20 L67.72,276.20 L68.71,276.20 L69.69,276.20 L70.67,276.20 L71.65,276.20 L72.63,276.20 L73.61,276.20 L74.60,276.20 L75.58,276.20 L76.56,276.20 L77.54,276.20 L78.52,276.20 L79.50,276.20 L80.48,276.20 L81.47,276.20 L82.45,276.20 L83.43,276.20 L84.41,276.20 L85.39,276.20 L86.37,276.20 L87.36,276.20 L88.34,276.20 L89.32,276.20 L90.30,276.20 L91.28,276.20 L92.26,276.20 L93.25,276.20 L94.23,276.20 L95.21,276.20 L96.19,276.20 L97.17,276.20 L98.15,276.20 L99.14,276.20 L100.12,276.20 L101.10,276.20 L102.08,276.20 L103.06,276.20 L104.04,276.20 L105.03,276.20 L106.01,276.20 L106.99,276.20 L107.97,276.20 L108.95,276.20 L109.93,276.20 L110.91,276.20 L111.90,276.20 L112.88,276.20 L113.86,276.20 L114.84,276.20 L115.82,276.20 L116.80,276.20 L117.79,276.20 L118.77,276.20 L119.75,276.20 L120.73,276.20 L121.71,276.20 L122.69,276.20 L123.68,276.20 L124.66,276.20 L125.64,276.20 L126.62,276.20 L127.60,276.20 L128.58,276.20 L129.57,276.20 L130.55,276.20 L131.53,276.20 L132.51,276.20 L133.49,276.20 L134.47,276.20 L135.45,276.20 L136.44,276.20 L137.42,276.20 L138.40,276.20 L139.38,276.20 L140.36,276.20 L141.34,276.20 L142.33,276.20 L143.31,276.20 L144.29,276.20 L145.27,276.20 L146.25,276.20 L147.23,276.20 L148.22,276.20 L149.20,276.20 L150.18,276.20 L151.16,276.20 L152.14,276.20 L153.12,276.20 L154.11,276.20 L155.09,276.21 L156.07,276.21 L157.05,276.21 L158.03,276.21 L159.01,276.22 L159.99,276.22 L160.98,276.23 L161.96,276.23 L162.94,276.24 L163.92,276.24 L164.90,276.25 L165.88,276.25 L166.87,276.26 L167.85,276.26 L168.83,276.27 L169.81,276.27 L170.79,276.28 L171.77,276.29 L172.76,276.29 L173.74,276.30 L174.72,276.31 L175.70,276.31 L176.68,276.32 L177.66,276.33 L178.65,276.33 L179.63,276.34 L180.61,276.34 L181.59,276.35 L182.57,276.36 L183.55,276.36 L184.54,276.37 L185.52,276.38 L186.50,276.38 L187.48,276.39 L188.46,276.39 L189.44,276.40 L190.42,276.40 L191.41,276.41 L192.39,276.41 L193.37,276.42 L194.35,276.43 L195.33,276.43 L196.31,276.44 L197.30,276.44 L198.28,276.45 L199.26,276.46 L200.24,276.46 L201.22,276.47 L202.20,276.48 L203.19,276.48 L204.17,276.49 L205.15,276.49 L206.13,276.49 L207.11,276.50 L208.09,276.50 L209.08,276.50 L210.06,276.50 L211.04,276.50 L212.02,276.49 L213.00,276.48 L213.98,276.46 L214.96,276.44 L215.95,276.41 L216.93,276.39 L217.91,276.36 L218.89,276.32 L219.87,276.29 L220.85,276.25 L221.84,276.21 L222.82,276.16 L223.80,276.08 L224.78,275.98 L225.76,275.86 L226.74,275.73 L227.73,275.59 L228.71,275.44 L229.69,275.30 L230.67,275.17 L231.65,275.04 L232.63,274.93 L233.62,274.81 L234.60,274.70 L235.58,274.59 L236.56,274.48 L237.54,274.36 L238.52,274.25 L239.51,274.15 L240.49,274.04 L241.47,273.94 L242.45,273.84 L243.43,273.74 L244.41,273.65 L245.39,273.57 L246.38,273.48 L247.36,273.40 L248.34,273.31 L249.32,273.23 L250.30,273.15 L251.28,273.07 L252.27,272.99 L253.25,272.92 L254.23,272.85 L255.21,272.78 L256.19,272.72 L257.17,272.65 L258.16,272.60 L259.14,272.54 L260.12,272.49 L261.10,272.45 L262.08,272.40 L263.06,272.36 L264.05,272.32 L265.03,272.27 L266.01,272.23 L266.99,272.19 L267.97,272.16 L268.95,272.12 L269.93,272.08 L270.92,272.05 L271.90,272.02 L272.88,271.99 L273.86,271.96 L274.84,271.93 L275.82,271.90 L276.81,271.87 L277.79,271.85 L278.77,271.83 L279.75,271.81 L280.73,271.78 L281.71,271.76 L282.70,271.75 L283.68,271.73 L284.66,271.71 L285.64,271.69 L286.62,271.67 L287.60,271.65 L288.59,271.64 L289.57,271.62 L290.55,271.61 L291.53,271.59 L292.51,271.58 L293.49,271.57 L294.47,271.55 L295.46,271.54 L296.44,271.53 L297.42,271.52 L298.40,271.51 L299.38,271.50 L300.36,271.50 L301.35,271.49 L302.33,271.48 L303.31,271.48 L304.29,271.47 L305.27,271.46 L306.25,271.46 L307.24,271.45 L308.22,271.44 L309.20,271.44 L310.18,271.43 L311.16,271.42 L312.14,271.42 L313.13,271.41 L314.11,271.41 L315.09,271.40 L316.07,271.40 L317.05,271.39 L318.03,271.38 L319.02,271.38 L320.00,271.37 L320.98,271.37 L321.96,271.36 L322.94,271.36 L323.92,271.35 L324.90,271.35 L325.89,271.35 L326.87,271.34 L327.85,271.34 L328.83,271.33 L329.81,271.33 L330.79,271.33 L331.78,271.32 L332.76,271.32 L333.74,271.32 L334.72,271.32 L335.70,271.31 L336.68,271.31 L337.67,271.31 L338.65,271.31 L339.63,271.31 L340.61,271.30 L341.59,271.30 L342.57,271.30 L343.56,271.30 L344.54,271.30 L345.52,271.30 L346.50,271.30" fill="none" stroke="#00a800" stroke-width="1.80" stroke-linecap="butt" stroke-linejoin="round"/>
<path d="M53.3,275.0 L346.4,275.0" stroke="#000" stroke-width="1.80" fill="none"/>
<g stroke="#000" fill="none" stroke-width="1.50" stroke-linecap="square">
<rect x="47.50" y="4.00" width="304.50" height="304.75"/>
<line x1="47.50" y1="156.50" x2="352.00" y2="156.50"/>
</g>
<g stroke="#000" fill="none"><line x1="49.95" y1="4.00" x2="49.95" y2="7.50" stroke-width="1.10"/><line x1="49.95" y1="156.50" x2="49.95" y2="160.00" stroke-width="1.10"/><line x1="49.95" y1="308.75" x2="49.95" y2="305.25" stroke-width="1.10"/><line x1="53.30" y1="4.00" x2="53.30" y2="10.00" stroke-width="1.30"/><line x1="53.30" y1="156.50" x2="53.30" y2="162.50" stroke-width="1.30"/><line x1="53.30" y1="308.75" x2="53.30" y2="302.75" stroke-width="1.30"/><line x1="75.34" y1="4.00" x2="75.34" y2="7.50" stroke-width="1.10"/><line x1="75.34" y1="156.50" x2="75.34" y2="160.00" stroke-width="1.10"/><line x1="75.34" y1="308.75" x2="75.34" y2="305.25" stroke-width="1.10"/><line x1="88.24" y1="4.00" x2="88.24" y2="7.50" stroke-width="1.10"/><line x1="88.24" y1="156.50" x2="88.24" y2="160.00" stroke-width="1.10"/><line x1="88.24" y1="308.75" x2="88.24" y2="305.25" stroke-width="1.10"/><line x1="97.39" y1="4.00" x2="97.39" y2="7.50" stroke-width="1.10"/><line x1="97.39" y1="156.50" x2="97.39" y2="160.00" stroke-width="1.10"/><line x1="97.39" y1="308.75" x2="97.39" y2="305.25" stroke-width="1.10"/><line x1="104.48" y1="4.00" x2="104.48" y2="7.50" stroke-width="1.10"/><line x1="104.48" y1="156.50" x2="104.48" y2="160.00" stroke-width="1.10"/><line x1="104.48" y1="308.75" x2="104.48" y2="305.25" stroke-width="1.10"/><line x1="110.28" y1="4.00" x2="110.28" y2="7.50" stroke-width="1.10"/><line x1="110.28" y1="156.50" x2="110.28" y2="160.00" stroke-width="1.10"/><line x1="110.28" y1="308.75" x2="110.28" y2="305.25" stroke-width="1.10"/><line x1="115.18" y1="4.00" x2="115.18" y2="7.50" stroke-width="1.10"/><line x1="115.18" y1="156.50" x2="115.18" y2="160.00" stroke-width="1.10"/><line x1="115.18" y1="308.75" x2="115.18" y2="305.25" stroke-width="1.10"/><line x1="119.43" y1="4.00" x2="119.43" y2="7.50" stroke-width="1.10"/><line x1="119.43" y1="156.50" x2="119.43" y2="160.00" stroke-width="1.10"/><line x1="119.43" y1="308.75" x2="119.43" y2="305.25" stroke-width="1.10"/><line x1="123.17" y1="4.00" x2="123.17" y2="7.50" stroke-width="1.10"/><line x1="123.17" y1="156.50" x2="123.17" y2="160.00" stroke-width="1.10"/><line x1="123.17" y1="308.75" x2="123.17" y2="305.25" stroke-width="1.10"/><line x1="126.52" y1="4.00" x2="126.52" y2="10.00" stroke-width="1.30"/><line x1="126.52" y1="156.50" x2="126.52" y2="162.50" stroke-width="1.30"/><line x1="126.52" y1="308.75" x2="126.52" y2="302.75" stroke-width="1.30"/><line x1="148.57" y1="4.00" x2="148.57" y2="7.50" stroke-width="1.10"/><line x1="148.57" y1="156.50" x2="148.57" y2="160.00" stroke-width="1.10"/><line x1="148.57" y1="308.75" x2="148.57" y2="305.25" stroke-width="1.10"/><line x1="161.46" y1="4.00" x2="161.46" y2="7.50" stroke-width="1.10"/><line x1="161.46" y1="156.50" x2="161.46" y2="160.00" stroke-width="1.10"/><line x1="161.46" y1="308.75" x2="161.46" y2="305.25" stroke-width="1.10"/><line x1="170.61" y1="4.00" x2="170.61" y2="7.50" stroke-width="1.10"/><line x1="170.61" y1="156.50" x2="170.61" y2="160.00" stroke-width="1.10"/><line x1="170.61" y1="308.75" x2="170.61" y2="305.25" stroke-width="1.10"/><line x1="177.71" y1="4.00" x2="177.71" y2="7.50" stroke-width="1.10"/><line x1="177.71" y1="156.50" x2="177.71" y2="160.00" stroke-width="1.10"/><line x1="177.71" y1="308.75" x2="177.71" y2="305.25" stroke-width="1.10"/><line x1="183.51" y1="4.00" x2="183.51" y2="7.50" stroke-width="1.10"/><line x1="183.51" y1="156.50" x2="183.51" y2="160.00" stroke-width="1.10"/><line x1="183.51" y1="308.75" x2="183.51" y2="305.25" stroke-width="1.10"/><line x1="188.41" y1="4.00" x2="188.41" y2="7.50" stroke-width="1.10"/><line x1="188.41" y1="156.50" x2="188.41" y2="160.00" stroke-width="1.10"/><line x1="188.41" y1="308.75" x2="188.41" y2="305.25" stroke-width="1.10"/><line x1="192.65" y1="4.00" x2="192.65" y2="7.50" stroke-width="1.10"/><line x1="192.65" y1="156.50" x2="192.65" y2="160.00" stroke-width="1.10"/><line x1="192.65" y1="308.75" x2="192.65" y2="305.25" stroke-width="1.10"/><line x1="196.40" y1="4.00" x2="196.40" y2="7.50" stroke-width="1.10"/><line x1="196.40" y1="156.50" x2="196.40" y2="160.00" stroke-width="1.10"/><line x1="196.40" y1="308.75" x2="196.40" y2="305.25" stroke-width="1.10"/><line x1="199.75" y1="4.00" x2="199.75" y2="10.00" stroke-width="1.30"/><line x1="199.75" y1="156.50" x2="199.75" y2="162.50" stroke-width="1.30"/><line x1="199.75" y1="308.75" x2="199.75" y2="302.75" stroke-width="1.30"/><line x1="221.79" y1="4.00" x2="221.79" y2="7.50" stroke-width="1.10"/><line x1="221.79" y1="156.50" x2="221.79" y2="160.00" stroke-width="1.10"/><line x1="221.79" y1="308.75" x2="221.79" y2="305.25" stroke-width="1.10"/><line x1="234.69" y1="4.00" x2="234.69" y2="7.50" stroke-width="1.10"/><line x1="234.69" y1="156.50" x2="234.69" y2="160.00" stroke-width="1.10"/><line x1="234.69" y1="308.75" x2="234.69" y2="305.25" stroke-width="1.10"/><line x1="243.84" y1="4.00" x2="243.84" y2="7.50" stroke-width="1.10"/><line x1="243.84" y1="156.50" x2="243.84" y2="160.00" stroke-width="1.10"/><line x1="243.84" y1="308.75" x2="243.84" y2="305.25" stroke-width="1.10"/><line x1="250.93" y1="4.00" x2="250.93" y2="7.50" stroke-width="1.10"/><line x1="250.93" y1="156.50" x2="250.93" y2="160.00" stroke-width="1.10"/><line x1="250.93" y1="308.75" x2="250.93" y2="305.25" stroke-width="1.10"/><line x1="256.73" y1="4.00" x2="256.73" y2="7.50" stroke-width="1.10"/><line x1="256.73" y1="156.50" x2="256.73" y2="160.00" stroke-width="1.10"/><line x1="256.73" y1="308.75" x2="256.73" y2="305.25" stroke-width="1.10"/><line x1="261.63" y1="4.00" x2="261.63" y2="7.50" stroke-width="1.10"/><line x1="261.63" y1="156.50" x2="261.63" y2="160.00" stroke-width="1.10"/><line x1="261.63" y1="308.75" x2="261.63" y2="305.25" stroke-width="1.10"/><line x1="265.88" y1="4.00" x2="265.88" y2="7.50" stroke-width="1.10"/><line x1="265.88" y1="156.50" x2="265.88" y2="160.00" stroke-width="1.10"/><line x1="265.88" y1="308.75" x2="265.88" y2="305.25" stroke-width="1.10"/><line x1="269.62" y1="4.00" x2="269.62" y2="7.50" stroke-width="1.10"/><line x1="269.62" y1="156.50" x2="269.62" y2="160.00" stroke-width="1.10"/><line x1="269.62" y1="308.75" x2="269.62" y2="305.25" stroke-width="1.10"/><line x1="272.97" y1="4.00" x2="272.97" y2="10.00" stroke-width="1.30"/><line x1="272.97" y1="156.50" x2="272.97" y2="162.50" stroke-width="1.30"/><line x1="272.97" y1="308.75" x2="272.97" y2="302.75" stroke-width="1.30"/><line x1="295.02" y1="4.00" x2="295.02" y2="7.50" stroke-width="1.10"/><line x1="295.02" y1="156.50" x2="295.02" y2="160.00" stroke-width="1.10"/><line x1="295.02" y1="308.75" x2="295.02" y2="305.25" stroke-width="1.10"/><line x1="307.91" y1="4.00" x2="307.91" y2="7.50" stroke-width="1.10"/><line x1="307.91" y1="156.50" x2="307.91" y2="160.00" stroke-width="1.10"/><line x1="307.91" y1="308.75" x2="307.91" y2="305.25" stroke-width="1.10"/><line x1="317.06" y1="4.00" x2="317.06" y2="7.50" stroke-width="1.10"/><line x1="317.06" y1="156.50" x2="317.06" y2="160.00" stroke-width="1.10"/><line x1="317.06" y1="308.75" x2="317.06" y2="305.25" stroke-width="1.10"/><line x1="324.16" y1="4.00" x2="324.16" y2="7.50" stroke-width="1.10"/><line x1="324.16" y1="156.50" x2="324.16" y2="160.00" stroke-width="1.10"/><line x1="324.16" y1="308.75" x2="324.16" y2="305.25" stroke-width="1.10"/><line x1="329.96" y1="4.00" x2="329.96" y2="7.50" stroke-width="1.10"/><line x1="329.96" y1="156.50" x2="329.96" y2="160.00" stroke-width="1.10"/><line x1="329.96" y1="308.75" x2="329.96" y2="305.25" stroke-width="1.10"/><line x1="334.86" y1="4.00" x2="334.86" y2="7.50" stroke-width="1.10"/><line x1="334.86" y1="156.50" x2="334.86" y2="160.00" stroke-width="1.10"/><line x1="334.86" y1="308.75" x2="334.86" y2="305.25" stroke-width="1.10"/><line x1="339.10" y1="4.00" x2="339.10" y2="7.50" stroke-width="1.10"/><line x1="339.10" y1="156.50" x2="339.10" y2="160.00" stroke-width="1.10"/><line x1="339.10" y1="308.75" x2="339.10" y2="305.25" stroke-width="1.10"/><line x1="342.85" y1="4.00" x2="342.85" y2="7.50" stroke-width="1.10"/><line x1="342.85" y1="156.50" x2="342.85" y2="160.00" stroke-width="1.10"/><line x1="342.85" y1="308.75" x2="342.85" y2="305.25" stroke-width="1.10"/><line x1="346.20" y1="4.00" x2="346.20" y2="10.00" stroke-width="1.30"/><line x1="346.20" y1="156.50" x2="346.20" y2="162.50" stroke-width="1.30"/><line x1="346.20" y1="308.75" x2="346.20" y2="302.75" stroke-width="1.30"/><line x1="47.50" y1="154.72" x2="51.00" y2="154.72" stroke-width="1.10"/><line x1="47.50" y1="151.13" x2="51.00" y2="151.13" stroke-width="1.10"/><line x1="47.50" y1="148.01" x2="51.00" y2="148.01" stroke-width="1.10"/><line x1="47.50" y1="145.26" x2="51.00" y2="145.26" stroke-width="1.10"/><line x1="47.50" y1="142.80" x2="53.50" y2="142.80" stroke-width="1.30"/><line x1="47.50" y1="126.62" x2="51.00" y2="126.62" stroke-width="1.10"/><line x1="47.50" y1="117.15" x2="51.00" y2="117.15" stroke-width="1.10"/><line x1="47.50" y1="110.44" x2="51.00" y2="110.44" stroke-width="1.10"/><line x1="47.50" y1="105.23" x2="51.00" y2="105.23" stroke-width="1.10"/><line x1="47.50" y1="100.97" x2="51.00" y2="100.97" stroke-width="1.10"/><line x1="47.50" y1="97.38" x2="51.00" y2="97.38" stroke-width="1.10"/><line x1="47.50" y1="94.26" x2="51.00" y2="94.26" stroke-width="1.10"/><line x1="47.50" y1="91.51" x2="51.00" y2="91.51" stroke-width="1.10"/><line x1="47.50" y1="89.05" x2="53.50" y2="89.05" stroke-width="1.30"/><line x1="47.50" y1="72.87" x2="51.00" y2="72.87" stroke-width="1.10"/><line x1="47.50" y1="63.40" x2="51.00" y2="63.40" stroke-width="1.10"/><line x1="47.50" y1="56.69" x2="51.00" y2="56.69" stroke-width="1.10"/><line x1="47.50" y1="51.48" x2="51.00" y2="51.48" stroke-width="1.10"/><line x1="47.50" y1="47.22" x2="51.00" y2="47.22" stroke-width="1.10"/><line x1="47.50" y1="43.63" x2="51.00" y2="43.63" stroke-width="1.10"/><line x1="47.50" y1="40.51" x2="51.00" y2="40.51" stroke-width="1.10"/><line x1="47.50" y1="37.76" x2="51.00" y2="37.76" stroke-width="1.10"/><line x1="47.50" y1="35.30" x2="53.50" y2="35.30" stroke-width="1.30"/><line x1="47.50" y1="19.12" x2="51.00" y2="19.12" stroke-width="1.10"/><line x1="47.50" y1="9.65" x2="51.00" y2="9.65" stroke-width="1.10"/><line x1="352.00" y1="155.00" x2="346.00" y2="155.00" stroke-width="1.30"/><line x1="352.00" y1="138.82" x2="348.50" y2="138.82" stroke-width="1.10"/><line x1="352.00" y1="129.35" x2="348.50" y2="129.35" stroke-width="1.10"/><line x1="352.00" y1="122.64" x2="348.50" y2="122.64" stroke-width="1.10"/><line x1="352.00" y1="117.43" x2="348.50" y2="117.43" stroke-width="1.10"/><line x1="352.00" y1="113.17" x2="348.50" y2="113.17" stroke-width="1.10"/><line x1="352.00" y1="109.58" x2="348.50" y2="109.58" stroke-width="1.10"/><line x1="352.00" y1="106.46" x2="348.50" y2="106.46" stroke-width="1.10"/><line x1="352.00" y1="103.71" x2="348.50" y2="103.71" stroke-width="1.10"/><line x1="352.00" y1="101.25" x2="346.00" y2="101.25" stroke-width="1.30"/><line x1="352.00" y1="85.07" x2="348.50" y2="85.07" stroke-width="1.10"/><line x1="352.00" y1="75.60" x2="348.50" y2="75.60" stroke-width="1.10"/><line x1="352.00" y1="68.89" x2="348.50" y2="68.89" stroke-width="1.10"/><line x1="352.00" y1="63.68" x2="348.50" y2="63.68" stroke-width="1.10"/><line x1="352.00" y1="59.42" x2="348.50" y2="59.42" stroke-width="1.10"/><line x1="352.00" y1="55.83" x2="348.50" y2="55.83" stroke-width="1.10"/><line x1="352.00" y1="52.71" x2="348.50" y2="52.71" stroke-width="1.10"/><line x1="352.00" y1="49.96" x2="348.50" y2="49.96" stroke-width="1.10"/><line x1="352.00" y1="47.50" x2="346.00" y2="47.50" stroke-width="1.30"/><line x1="352.00" y1="31.32" x2="348.50" y2="31.32" stroke-width="1.10"/><line x1="352.00" y1="21.85" x2="348.50" y2="21.85" stroke-width="1.10"/><line x1="352.00" y1="15.14" x2="348.50" y2="15.14" stroke-width="1.10"/><line x1="352.00" y1="9.93" x2="348.50" y2="9.93" stroke-width="1.10"/><line x1="352.00" y1="5.67" x2="348.50" y2="5.67" stroke-width="1.10"/><line x1="47.50" y1="306.10" x2="53.50" y2="306.10" stroke-width="1.30"/><line x1="352.00" y1="306.10" x2="346.00" y2="306.10" stroke-width="1.30"/><line x1="47.50" y1="299.85" x2="51.00" y2="299.85" stroke-width="1.10"/><line x1="352.00" y1="299.85" x2="348.50" y2="299.85" stroke-width="1.10"/><line x1="47.50" y1="293.60" x2="51.00" y2="293.60" stroke-width="1.10"/><line x1="352.00" y1="293.60" x2="348.50" y2="293.60" stroke-width="1.10"/><line x1="47.50" y1="287.35" x2="51.00" y2="287.35" stroke-width="1.10"/><line x1="352.00" y1="287.35" x2="348.50" y2="287.35" stroke-width="1.10"/><line x1="47.50" y1="281.10" x2="51.00" y2="281.10" stroke-width="1.10"/><line x1="352.00" y1="281.10" x2="348.50" y2="281.10" stroke-width="1.10"/><line x1="47.50" y1="274.85" x2="53.50" y2="274.85" stroke-width="1.30"/><line x1="352.00" y1="274.85" x2="346.00" y2="274.85" stroke-width="1.30"/><line x1="47.50" y1="268.60" x2="51.00" y2="268.60" stroke-width="1.10"/><line x1="352.00" y1="268.60" x2="348.50" y2="268.60" stroke-width="1.10"/><line x1="47.50" y1="262.35" x2="51.00" y2="262.35" stroke-width="1.10"/><line x1="352.00" y1="262.35" x2="348.50" y2="262.35" stroke-width="1.10"/><line x1="47.50" y1="256.10" x2="51.00" y2="256.10" stroke-width="1.10"/><line x1="352.00" y1="256.10" x2="348.50" y2="256.10" stroke-width="1.10"/><line x1="47.50" y1="249.85" x2="51.00" y2="249.85" stroke-width="1.10"/><line x1="352.00" y1="249.85" x2="348.50" y2="249.85" stroke-width="1.10"/><line x1="47.50" y1="243.60" x2="53.50" y2="243.60" stroke-width="1.30"/><line x1="352.00" y1="243.60" x2="346.00" y2="243.60" stroke-width="1.30"/><line x1="47.50" y1="237.35" x2="51.00" y2="237.35" stroke-width="1.10"/><line x1="352.00" y1="237.35" x2="348.50" y2="237.35" stroke-width="1.10"/><line x1="47.50" y1="231.10" x2="51.00" y2="231.10" stroke-width="1.10"/><line x1="352.00" y1="231.10" x2="348.50" y2="231.10" stroke-width="1.10"/><line x1="47.50" y1="224.85" x2="51.00" y2="224.85" stroke-width="1.10"/><line x1="352.00" y1="224.85" x2="348.50" y2="224.85" stroke-width="1.10"/><line x1="47.50" y1="218.60" x2="51.00" y2="218.60" stroke-width="1.10"/><line x1="352.00" y1="218.60" x2="348.50" y2="218.60" stroke-width="1.10"/><line x1="47.50" y1="212.35" x2="53.50" y2="212.35" stroke-width="1.30"/><line x1="352.00" y1="212.35" x2="346.00" y2="212.35" stroke-width="1.30"/><line x1="47.50" y1="206.10" x2="51.00" y2="206.10" stroke-width="1.10"/><line x1="352.00" y1="206.10" x2="348.50" y2="206.10" stroke-width="1.10"/><line x1="47.50" y1="199.85" x2="51.00" y2="199.85" stroke-width="1.10"/><line x1="352.00" y1="199.85" x2="348.50" y2="199.85" stroke-width="1.10"/><line x1="47.50" y1="193.60" x2="51.00" y2="193.60" stroke-width="1.10"/><line x1="352.00" y1="193.60" x2="348.50" y2="193.60" stroke-width="1.10"/><line x1="47.50" y1="187.35" x2="51.00" y2="187.35" stroke-width="1.10"/><line x1="352.00" y1="187.35" x2="348.50" y2="187.35" stroke-width="1.10"/><line x1="47.50" y1="181.10" x2="53.50" y2="181.10" stroke-width="1.30"/><line x1="352.00" y1="181.10" x2="346.00" y2="181.10" stroke-width="1.30"/><line x1="47.50" y1="174.85" x2="51.00" y2="174.85" stroke-width="1.10"/><line x1="352.00" y1="174.85" x2="348.50" y2="174.85" stroke-width="1.10"/><line x1="47.50" y1="168.60" x2="51.00" y2="168.60" stroke-width="1.10"/><line x1="352.00" y1="168.60" x2="348.50" y2="168.60" stroke-width="1.10"/><line x1="47.50" y1="162.35" x2="51.00" y2="162.35" stroke-width="1.10"/><line x1="352.00" y1="162.35" x2="348.50" y2="162.35" stroke-width="1.10"/></g>
<g font-family="'Liberation Serif', serif" fill="#000" opacity="0.92" style="filter:grayscale(1)">
<text x="45.00" y="143.80" text-anchor="end" font-size="8.8">17</text>
<text x="24.80" y="147.80" font-size="13.0" textLength="12.00" lengthAdjust="spacingAndGlyphs">10</text>
<text x="45.00" y="90.05" text-anchor="end" font-size="8.8">18</text>
<text x="24.80" y="94.05" font-size="13.0" textLength="12.00" lengthAdjust="spacingAndGlyphs">10</text>
<text x="45.00" y="36.30" text-anchor="end" font-size="8.8">19</text>
<text x="24.80" y="40.30" font-size="13.0" textLength="12.00" lengthAdjust="spacingAndGlyphs">10</text>
<text x="353.90" y="52.60" font-size="13.0" textLength="12.00" lengthAdjust="spacingAndGlyphs">10</text>
<text x="365.60" y="48.60" font-size="8.8">1</text>
<text x="353.90" y="106.35" font-size="13.0" textLength="12.00" lengthAdjust="spacingAndGlyphs">10</text>
<text x="365.60" y="102.35" font-size="8.8">0</text>
<text x="353.90" y="160.10" font-size="13.0" textLength="12.00" lengthAdjust="spacingAndGlyphs">10</text>
<text x="365.60" y="156.10" font-size="8.8">−1</text>
<text x="45.0" y="311.10" text-anchor="end" font-size="13.0" >0</text>
<text x="45.0" y="279.85" text-anchor="end" font-size="13.0" >1</text>
<text x="45.0" y="248.60" text-anchor="end" font-size="13.0" >2</text>
<text x="45.0" y="217.35" text-anchor="end" font-size="13.0" >3</text>
<text x="45.0" y="186.10" text-anchor="end" font-size="13.0" >4</text>
<text x="44.90" y="325.00" font-size="13.0" textLength="12.00" lengthAdjust="spacingAndGlyphs">10</text>
<text x="56.60" y="321.00" font-size="8.8">1</text>
<text x="118.12" y="325.00" font-size="13.0" textLength="12.00" lengthAdjust="spacingAndGlyphs">10</text>
<text x="129.82" y="321.00" font-size="8.8">2</text>
<text x="191.35" y="325.00" font-size="13.0" textLength="12.00" lengthAdjust="spacingAndGlyphs">10</text>
<text x="203.05" y="321.00" font-size="8.8">3</text>
<text x="264.57" y="325.00" font-size="13.0" textLength="12.00" lengthAdjust="spacingAndGlyphs">10</text>
<text x="276.27" y="321.00" font-size="8.8">4</text>
<text x="337.80" y="325.00" font-size="13.0" textLength="12.00" lengthAdjust="spacingAndGlyphs">10</text>
<text x="349.50" y="321.00" font-size="8.8">5</text>
<text transform="translate(15.60,126.80) rotate(-90)" font-size="15.9" textLength="32.80" lengthAdjust="spacingAndGlyphs">Mean</text>
<text transform="translate(15.60,88.20) rotate(-90)" font-size="15.9" textLength="24.80" lengthAdjust="spacingAndGlyphs">Size</text>
<text transform="translate(15.60,59.05) rotate(-90)" font-size="15.9" textLength="26.80" lengthAdjust="spacingAndGlyphs">[cm]</text>
<text transform="translate(29.40,268.00) rotate(-90)" font-size="15.9" textLength="31.60" lengthAdjust="spacingAndGlyphs">Axial</text>
<text transform="translate(29.40,230.50) rotate(-90)" font-size="15.9" textLength="34.00" lengthAdjust="spacingAndGlyphs">Ratio</text>
<text transform="translate(392.40,157.20) rotate(-90)" font-size="15.9" textLength="32.60" lengthAdjust="spacingAndGlyphs">Mean</text>
<text transform="translate(392.40,117.60) rotate(-90)" font-size="15.9" textLength="49.00" lengthAdjust="spacingAndGlyphs">Angular</text>
<text transform="translate(392.40,62.40) rotate(-90)" font-size="15.9" textLength="24.50" lengthAdjust="spacingAndGlyphs">Size</text>
<text transform="translate(392.40,34.30) rotate(-90)" font-size="15.9" textLength="32.90" lengthAdjust="spacingAndGlyphs">[mas]</text>
<text x="176.4" y="345.6" font-size="15.3" font-style="italic">t</text>
<text x="186.45" y="345.6" font-size="15.0" textLength="35.9" lengthAdjust="spacingAndGlyphs">[days]</text>
<text x="268.6" y="85.6" font-size="13.6" textLength="15.9" lengthAdjust="spacingAndGlyphs">GJ</text>
<text x="268.6" y="104.2" font-size="13.6" textLength="22.6" lengthAdjust="spacingAndGlyphs">PLJ</text>
<text x="268.6" y="123.1" font-size="13.6" textLength="31.0" lengthAdjust="spacingAndGlyphs">QSph</text>
<text x="302.3" y="126.3" font-size="19">+</text>
<text x="316.2" y="123.1" font-size="13.6" font-style="italic" textLength="9.6" lengthAdjust="spacingAndGlyphs">E</text>
<text x="325.5" y="125.6" font-size="9.3">inj</text>
<text x="268.6" y="141.5" font-size="13.6" textLength="22.4" lengthAdjust="spacingAndGlyphs">Sph</text>
<text x="293.4" y="144.7" font-size="19">+</text>
<text x="306.9" y="141.5" font-size="13.6" font-style="italic" textLength="9.6" lengthAdjust="spacingAndGlyphs">E</text>
<text x="316.2" y="144.0" font-size="9.3">inj</text>
<text x="160.1" y="139.8" font-size="15.6" font-style="italic">t</text>
<text x="168.35" y="141.6" font-size="18.2">&gt;</text>
<text x="181.6" y="139.8" font-size="15.6" font-style="italic">t</text>
<text x="187.0" y="141.9" font-size="9.3" textLength="13.0" lengthAdjust="spacingAndGlyphs">NR</text>
</g>
<line x1="244.6" y1="82.15" x2="262.0" y2="82.15" stroke="#ff1010" stroke-width="1.30"/>
<line x1="244.6" y1="100.55" x2="262.0" y2="100.55" stroke="#1010ff" stroke-width="1.30"/>
<line x1="244.6" y1="119.30" x2="262.0" y2="119.30" stroke="#10a010" stroke-width="1.30"/>
<line x1="244.6" y1="137.70" x2="262.0" y2="137.70" stroke="#202020" stroke-width="1.30"/>
<line x1="135.9" y1="136.4" x2="154.1" y2="136.4" stroke="#111" stroke-width="1.3" stroke-dasharray="5.3 2.65"/>
</svg>
</body></html>
